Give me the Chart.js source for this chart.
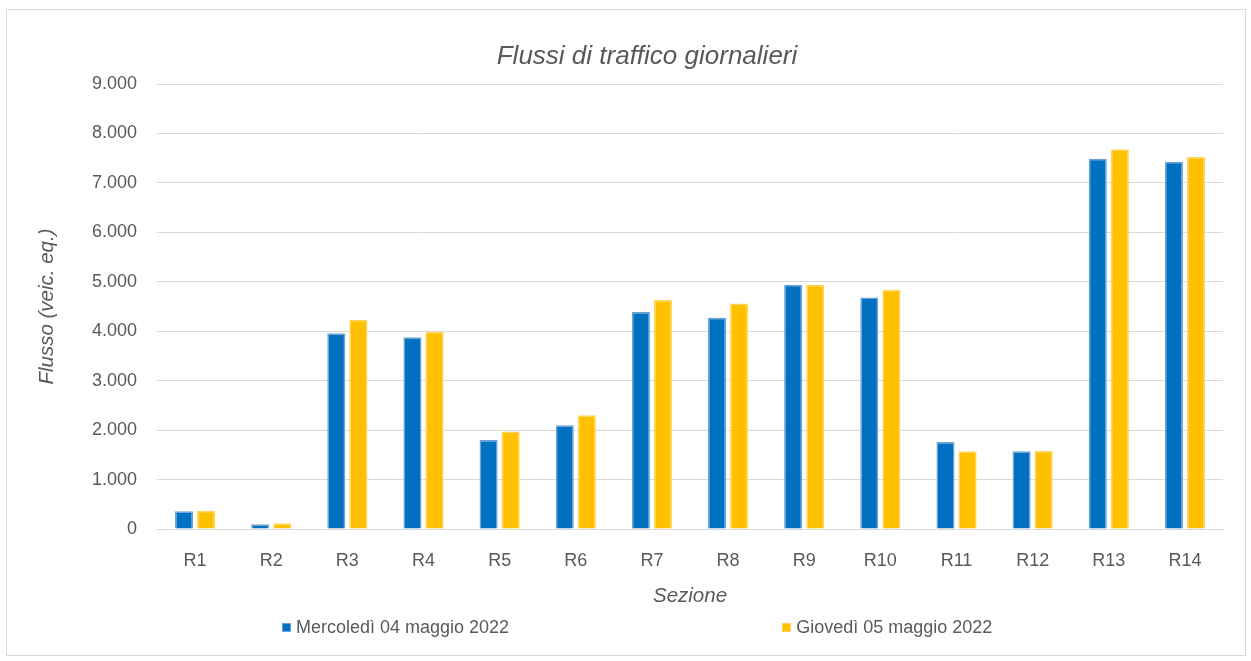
<!DOCTYPE html>
<html>
<head>
<meta charset="utf-8">
<script src="https://cdn.jsdelivr.net/npm/chart.js@4/dist/chart.umd.min.js"></script>
<style>
  body { margin: 0; background: #fff; font-family: "Liberation Sans", Arial, sans-serif; }
  #frame { position: absolute; left: 6px; top: 9px; width: 1238px; height: 645px; border: 1px solid #d9d9d9; }
  #wrap { position: absolute; left: 0; top: 0; width: 1238px; height: 645px; }
  #legend { position: absolute; left: 275px; top: 607px; display: flex; gap: 273px; color: #595959; font-size: 18px; }
  .item { display: flex; align-items: center; }
  .box { width: 9px; height: 9px; margin-right: 5px; box-sizing: border-box; }
</style>
</head>
<body>
<div id="frame">
  <div id="wrap"><canvas id="chart"></canvas></div>
  <div id="legend"></div>
</div>
<script>
const sezioni = ["R1", "R2", "R3", "R4", "R5", "R6", "R7", "R8", "R9", "R10", "R11", "R12", "R13", "R14"];
const mercoledi = [358, 95, 3960, 3880, 1800, 2100, 4390, 4270, 4940, 4680, 1760, 1575, 7490, 7430];
const giovedi = [370, 115, 4230, 3990, 1970, 2300, 4630, 4560, 4940, 4840, 1570, 1580, 7680, 7525];
const serieLabels = ["Mercoledì 04 maggio 2022", "Giovedì 05 maggio 2022"];
const yTicks = [0, 1000, 2000, 3000, 4000, 5000, 6000, 7000, 8000, 9000];

const textColor = "#595959";
const fontFamily = "'Liberation Sans', Arial, sans-serif";
const colors = [
  { fill: "#0070C0", border: "#6fa3d8" },
  { fill: "#FFC000", border: "#ffd45c" },
];

function formatThousands(v) {
  return v.toString().replace(/\B(?=(\d{3})+(?!\d))/g, ".");
}

const datasets = [mercoledi, giovedi].map((values, i) => ({
  label: serieLabels[i],
  data: values,
  backgroundColor: colors[i].fill,
  borderColor: colors[i].border,
  borderWidth: 1.5,
  categoryPercentage: 0.58,
  barPercentage: 0.82,
}));

new Chart(document.getElementById("chart"), {
  type: "bar",
  data: { labels: sezioni, datasets: datasets },
  options: {
    responsive: true,
    maintainAspectRatio: false,
    animation: false,
    // left padding shifts the title centre to match the original
    layout: { padding: { left: 64, right: 22, top: 0, bottom: 46 } },
    plugins: {
      legend: { display: false },
      tooltip: { enabled: false },
      title: {
        display: true,
        text: "Flussi di traffico giornalieri",
        color: textColor,
        font: { family: fontFamily, size: 26, style: "italic", weight: "normal" },
        padding: { top: 30.9, bottom: 11.9 },
      },
    },
    scales: {
      x: {
        grid: { display: false },
        border: { color: "#d9d9d9" },
        ticks: { color: textColor, padding: 13, font: { family: fontFamily, size: 18 } },
        title: {
          display: true,
          text: "Sezione",
          color: textColor,
          font: { family: fontFamily, size: 20.5, style: "italic" },
          padding: { top: 0, bottom: 0 },
        },
        afterFit: (scale) => { scale.height = 80; },
      },
      y: {
        min: 0,
        max: 9000,
        afterBuildTicks: (scale) => { scale.ticks = yTicks.map((v) => ({ value: v })); },
        grid: { color: "#d9d9d9", drawTicks: false },
        border: { display: false },
        ticks: {
          color: textColor,
          padding: 20,
          font: { family: fontFamily, size: 18 },
          callback: (v) => formatThousands(v),
        },
        title: {
          display: true,
          text: "Flusso (veic. eq.)",
          color: textColor,
          font: { family: fontFamily, size: 20.5, style: "italic" },
          padding: { top: -36.3, bottom: 0 },
        },
        afterFit: (scale) => { scale.width = 86; },
      },
    },
  },
});

// Legend as HTML, built from the datasets
const legend = document.getElementById("legend");
datasets.forEach((ds) => {
  const item = document.createElement("div");
  item.className = "item";
  const box = document.createElement("span");
  box.className = "box";
  box.style.background = ds.backgroundColor;
  box.style.border = "1px solid " + ds.borderColor;
  const label = document.createElement("span");
  label.textContent = ds.label;
  item.appendChild(box);
  item.appendChild(label);
  legend.appendChild(item);
});
</script>
</body>
</html>
